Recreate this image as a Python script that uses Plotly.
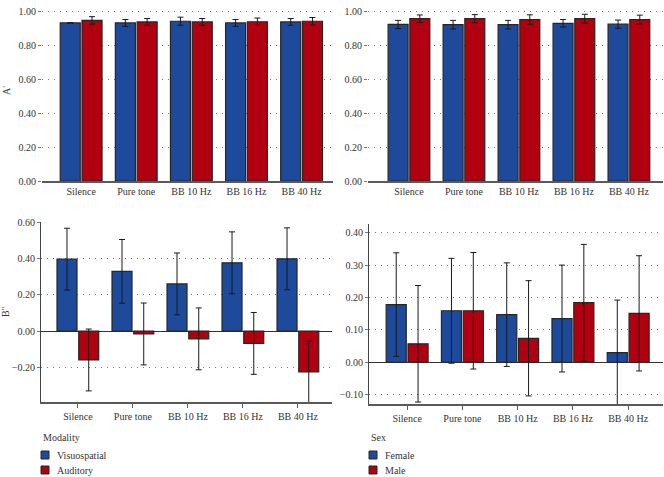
import plotly.graph_objects as go

# --- data ---
CATEGORIES = ["Silence", "Pure tone", "BB 10 Hz", "BB 16 Hz", "BB 40 Hz"]

# A' by modality
a_vis = [0.930, 0.930, 0.940, 0.930, 0.936]
a_vis_err = [0.0, 0.020, 0.024, 0.020, 0.020]
a_aud = [0.945, 0.936, 0.936, 0.937, 0.940]
a_aud_err = [0.022, 0.020, 0.020, 0.022, 0.022]

# A' by sex
a_fem = [0.921, 0.920, 0.920, 0.928, 0.923]
a_fem_err = [0.024, 0.025, 0.025, 0.022, 0.024]
a_male = [0.955, 0.955, 0.950, 0.955, 0.950]
a_male_err = [0.022, 0.024, 0.028, 0.026, 0.026]

# B'' by modality
b_vis = [0.396, 0.329, 0.260, 0.376, 0.398]
b_vis_err = [0.170, 0.175, 0.170, 0.170, 0.170]
b_aud = [-0.158, -0.015, -0.042, -0.067, -0.224]
b_aud_err = [0.170, 0.170, 0.170, 0.170, 0.170]

# B'' by sex
b_fem = [0.178, 0.159, 0.147, 0.135, 0.030]
b_fem_err = [0.160, 0.162, 0.160, 0.165, 0.162]
b_male = [0.057, 0.159, 0.074, 0.184, 0.151]
b_male_err = [0.180, 0.180, 0.178, 0.180, 0.178]

BLUE = "#1d4a9b"
RED = "#b1000f"
FONT = "Liberation Serif"
W, H = 664, 477


def px_x(a, b):
    return [a / W, b / W]


def px_y(top, bottom):
    return [1 - bottom / H, 1 - top / H]


fig = go.Figure()


def add_pair(xa, ya, y1, e1, y2, e2):
    for vals, errs, color in [(y1, e1, BLUE), (y2, e2, RED)]:
        fig.add_trace(
            go.Bar(
                x=CATEGORIES,
                y=vals,
                marker=dict(color=color, line=dict(color="#262626", width=1.2)),
                error_y=dict(type="data", array=errs, color="#1a1a1a", thickness=1, width=3),
                xaxis=xa,
                yaxis=ya,
                showlegend=False,
            )
        )


add_pair("x", "y", a_vis, a_vis_err, a_aud, a_aud_err)
add_pair("x2", "y2", a_fem, a_fem_err, a_male, a_male_err)
add_pair("x3", "y3", b_vis, b_vis_err, b_aud, b_aud_err)
add_pair("x4", "y4", b_fem, b_fem_err, b_male, b_male_err)

tickfont = dict(family=FONT, size=10, color="#333")
grid = dict(showgrid=True, gridcolor="#777", griddash="1px,5px", gridwidth=1)

x_common = dict(type="category", tickfont=tickfont, showgrid=False, zeroline=False,
                showline=True, linecolor="#5a5a5a", linewidth=1.5, automargin=False)
x_top = dict(x_common, ticks="")
x_bot = dict(x_common, ticks="outside", ticklen=4, tickcolor="#5a5a5a")

y_common = dict(tickfont=tickfont, tickformat=".2f", ticks="outside", ticklen=3,
                tickcolor="#777", automargin=False, **grid)

# key blocks under each bottom panel: title + two coloured squares with labels
label_font = dict(family=FONT, size=10, color="#333")
key_shapes, key_texts = [], []
for title, x0, entries in [("Modality", 41, [("Visuospatial", BLUE), ("Auditory", RED)]),
                           ("Sex", 369, [("Female", BLUE), ("Male", RED)])]:
    key_texts.append(dict(text=title, x=x0 / W, y=1 - 437 / H, xref="paper", yref="paper",
                          xanchor="left", yanchor="middle", showarrow=False, font=label_font))
    for (name, color), yc in zip(entries, [455, 470]):
        key_shapes.append(dict(type="rect", xref="paper", yref="paper",
                               x0=(x0 + 0) / W, x1=(x0 + 8) / W,
                               y0=1 - (yc + 4) / H, y1=1 - (yc - 4) / H,
                               fillcolor=color, line=dict(color="#262626", width=1)))
        key_texts.append(dict(text=name, x=(x0 + 14) / W, y=1 - yc / H, xref="paper",
                              yref="paper", xanchor="left", yanchor="middle",
                              showarrow=False, font=label_font))

fig.update_layout(
    width=W,
    height=H,
    margin=dict(l=0, r=0, t=0, b=0),
    paper_bgcolor="white",
    plot_bgcolor="white",
    showlegend=False,
    barmode="group",
    bargap=0.21,
    bargroupgap=0.08,
    font=dict(family=FONT, size=10, color="#333"),
    xaxis=dict(x_top, domain=px_x(42, 333), range=[-0.71, 4.57], anchor="y"),
    yaxis=dict(y_common, domain=px_y(0, 181), range=[0, 1.065], dtick=0.2, anchor="x",
               zeroline=False, showline=False,
               title=dict(text="A'", font=dict(family=FONT, size=10), standoff=6)),
    xaxis2=dict(x_top, domain=px_x(368, 663), range=[-0.745, 4.62], anchor="y2"),
    yaxis2=dict(y_common, domain=px_y(0, 181), range=[0, 1.065], dtick=0.2, anchor="x2",
                zeroline=False, showline=False),
    xaxis3=dict(x_bot, domain=px_x(41, 332), range=[-0.67, 4.62], anchor="y3"),
    yaxis3=dict(y_common, domain=px_y(221.5, 402), range=[-0.389, 0.603], dtick=0.2,
                tick0=0, anchor="x3", zeroline=True, zerolinecolor="#333", zerolinewidth=1,
                showline=True, linecolor="#444", linewidth=1,
                title=dict(text="B''", font=dict(family=FONT, size=10), standoff=6)),
    xaxis4=dict(x_bot, domain=px_x(369, 663), range=[-0.69, 4.63], anchor="y4"),
    yaxis4=dict(y_common, domain=px_y(224, 404), range=[-0.129, 0.427], dtick=0.1,
                tick0=0, anchor="x4", zeroline=True, zerolinecolor="#333", zerolinewidth=1,
                showline=True, linecolor="#444", linewidth=1),
    shapes=key_shapes,
    annotations=key_texts,
)

# drop the default page margin and scrollbars so the figure fills the window exactly
page_css = (
    "document.documentElement.style.margin='0px';"
    "document.documentElement.style.overflow='hidden';"
    "document.body.style.margin='0px';"
    "document.body.style.overflow='hidden';"
)
fig.write_html("out.html", config={"displayModeBar": False}, post_script=page_css)
